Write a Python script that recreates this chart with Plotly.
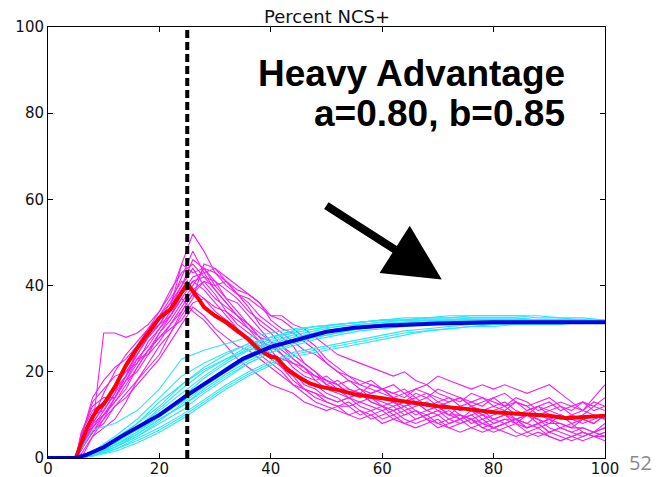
import plotly.graph_objects as go

# ---------------- data ----------------
x_mag = [0, 5] + list(range(6, 101, 2))  # 50 points
mag_lines = [
    [0,0,2,8,12,16,19,25,28,31, 35,45,52,48,43,41,38,35,31,29, 26,23,21,19,18,16,16,15,14,14, 13,12,13,11,12,10,10,9,10,8, 9,9,8,7,8,8,7,7,6,7],
    [0,0,5,7,29,29,28,29,31,34, 38,45,43,44,40,41,39,38,36,33, 33,31,30,28,26,24,23,22,21,20, 19,20,18,17,19,18,17,16,17,16, 17,16,15,16,17,15,13,11,14,17],
    [0,0,0,5,9,14,18,22,27,30, 33,38,41,42,39,36,33,31,29,27, 26,24,22,20,18,17,15,16,14,13, 12,13,11,10,11,12,10,9,8,9, 10,8,7,8,6,7,8,6,5,6],
    [0,0,6,12,14,14,18,23,24,29, 32,36,40,44,41,37,36,33,30,27, 24,21,19,18,19,17,15,14,15,16, 14,13,15,14,12,13,14,12,11,12, 13,11,10,12,11,10,9,10,12,11],
    [0,0,4,10,11,15,22,26,30,33, 36,40,44,40,37,35,33,30,28,25, 22,20,17,16,14,13,14,12,11,12, 10,11,9,10,11,9,8,9,7,8, 9,8,10,9,7,6,5,6,5,5],
    [0,0,2,6,8,12,15,18,22,26, 29,33,37,45,44,42,40,38,36,32, 30,29,27,25,22,20,19,17,18,16, 15,16,14,15,13,14,12,13,14,12, 11,13,12,10,11,12,10,9,10,9],
    [0,0,3,7,10,13,17,21,25,28, 31,34,38,35,33,31,29,28,25,23, 21,19,16,14,13,12,12,10,11,9, 10,8,9,10,8,7,8,9,7,6, 7,8,6,5,6,5,4,5,6,5],
    [0,0,5,13,16,19,20,24,28,33, 37,41,39,37,35,34,32,30,27,24, 21,18,16,15,14,13,14,15,13,12, 13,11,12,13,11,10,12,11,9,10, 11,9,10,8,9,10,8,9,8,10],
    [0,0,1,5,7,9,13,18,21,24, 29,34,38,41,38,34,31,29,27,26, 24,22,21,19,18,17,18,16,15,16, 15,14,16,15,14,13,14,12,13,14, 12,13,11,12,13,11,12,13,11,12],
    [0,0,4,9,15,20,24,27,30,34, 39,43,45,42,41,39,37,34,32,30, 28,26,22,20,17,16,14,13,12,11, 12,10,11,9,10,8,9,10,8,7, 8,9,7,8,6,7,6,5,6,7],
    [0,0,3,8,12,17,20,22,25,28, 30,32,36,37,34,32,30,27,24,22, 20,17,15,13,12,11,10,9,10,8, 9,8,7,8,9,7,6,7,8,7, 6,5,6,7,5,4,5,4,5,6],
    [0,0,6,11,13,14,19,24,28,31, 35,40,46,44,43,40,38,37,35,33, 32,30,28,26,23,21,19,18,17,16, 17,15,16,17,15,14,13,15,14,13, 12,14,13,11,12,13,12,11,13,12],
    [0,0,2,6,9,12,14,17,20,23, 27,31,35,33,30,28,26,25,23,21, 19,17,16,15,13,12,13,11,10,11, 9,10,11,9,8,9,10,8,9,7, 8,9,7,8,9,7,6,7,6,8],
    [0,0,4,10,13,16,21,25,29,32, 36,42,48,43,39,36,33,31,28,25, 22,20,18,17,15,14,12,13,14,12, 11,12,13,11,10,11,9,10,11,9, 8,9,10,9,8,10,9,8,9,10],
    [0,0,5,14,18,21,23,26,29,31, 33,37,34,32,29,26,23,21,19,17, 16,15,13,12,11,12,10,11,9,10, 11,9,8,9,7,8,9,7,6,7, 8,6,5,6,5,4,5,6,5,4],
    [0,0,2,7,11,15,19,23,26,30, 34,38,42,43,44,41,38,36,33,31, 29,27,25,24,22,20,18,17,16,15, 14,13,14,12,13,12,11,12,10,11, 12,10,11,12,10,9,10,11,10,9],
    [0,0,3,6,10,14,18,20,24,27, 31,35,39,41,40,37,34,31,28,27, 25,23,21,18,16,15,14,15,13,12, 11,12,10,11,12,10,9,11,10,9, 10,9,8,10,9,8,7,9,8,10],
    [0,0,4,8,10,13,16,21,25,29, 33,37,41,39,36,33,30,28,26,24, 23,22,20,19,17,18,16,15,17,16, 14,15,13,14,16,15,14,13,12,14, 15,13,12,13,14,12,11,13,12,14],
]

x_cyan = [0, 5, 8, 12, 16, 20, 24, 28, 32, 36, 40, 44, 48, 52, 56, 60, 64, 68, 72, 76, 80, 84, 88, 92, 96, 100]
cyan_lines = [
    [0,0,6.5,8,11,16,23,25,26.5,28,29,30,30.5,31,31.5,32,32,32.5,32.5,33,33,33,33,32.5,32,32],
    [0,0,1,4,8,13,17,21,24,26.5,28,29.5,30.5,31,31.5,32,32,32,32,32.5,32.5,32.5,32,32,32,31.5],
    [0,0,0.5,3,6,10,13,17,21,24,26.5,28,29,30,30.5,31,31.5,31.5,32,32,32,32,32,32,31.5,31.5],
    [0,0,0.5,2.5,5,8,11,15,18.5,22,24.5,26,27.5,28.5,29.5,30,30.5,31,31,31.5,31.5,31.5,31.5,31.5,31.5,31.5],
    [0,0,1,3.5,6.5,10,14,18.5,22,25,27,28.5,29.5,30.5,31,31.5,32,32,32,32,32,32,32,32,31.5,31.5],
    [0,0,0.5,2,4.5,7,10,13.5,17,20,22.5,24.5,25.5,26.5,27.5,28.5,29.5,30,30.5,31,31,31.5,31.5,31.5,31.5,31.5],
    [0,0,1,4,7,11,15,19,22.5,25.5,27.5,29,30,31,31.5,32,32.5,32.5,33,33,33,33,32.5,32.5,32.5,32],
    [0,0,0.5,3,5.5,9,12,16,19.5,22.5,25,27,28,29,30,30.5,31,31,31.5,31.5,31.5,31.5,31.5,31.5,31.5,31.5],
    [0,0,0.5,2,4,6.5,9.5,13,16.5,19.5,22,24,25,26,27,28,29,29.5,30,30.5,31,31,31,31.5,31.5,31.5],
    [0,0,1.5,5,9,14,19,22,24.5,26.5,28,29,30,30.5,31,31.5,31.5,32,32,32,32,32,32,32,31.5,31.5],
    [0,0,0.5,2.5,5,8.5,12.5,16.5,20,23,25.5,27,28.5,29.5,30,30.5,31,31.5,31.5,32,32,32,32,32,32,31.5],
    [0,0,1,3.5,7,11.5,16,20,23,26,28,29.5,30.5,31,31.5,32,32,32.5,32.5,32.5,32.5,32.5,32,32,32,32],
    [0,0,0.5,1.5,3.5,6,9,12.5,16,19,21.5,23.5,24.5,25.5,26.5,27.5,28.5,29.5,30,30.5,30.5,31,31,31,31.5,31.5],
    [0,0,1,3,6,9.5,13,17,20.5,23.5,25.5,27.5,29,30,30.5,31,31.5,31.5,31.5,32,32,32,32,31.5,31.5,31.5],
    [0,0,0.5,2.5,5.5,9,12,15.5,19,22,24.5,26.5,28,29,30,30.5,31,31.5,31.5,31.5,31.5,31.5,31.5,31.5,31.5,31.5],
    [0,0,1,4.5,8,12,17,20.5,23,25,26.5,28,29,30,30.5,31,31.5,31.5,32,32,32,32,32,32,32,31.5],
]

x_red = [0, 5, 6, 7, 8, 9, 10, 12, 14, 16, 18, 20, 22, 23, 25, 27, 28, 30, 32, 34, 36, 38, 40, 41, 43, 45, 47, 49, 52, 55, 60, 65, 70, 75, 80, 85, 90, 93, 96, 100]
red_mean = [0, 0, 3.5, 7, 9.5, 11.5, 12.5, 16.5, 21.5, 25.5, 29, 32.5, 34.5, 36.5, 40.5, 37, 35, 33, 31.5, 29.5, 27.5, 25, 23.5, 23.3, 20.5, 18.8, 17.3, 16.5, 15.8, 14.8, 13.8, 12.8, 12, 11.4, 10.6, 10.2, 9.8, 9.2, 9.4, 9.8]

x_blue = [0, 5, 7, 10, 13, 15, 20, 25, 30, 35, 40, 45, 50, 55, 60, 70, 80, 90, 100]
blue_mean = [0, 0, 0.8, 2.5, 4.9, 6.3, 10, 14.6, 18.8, 23, 25.8, 27.6, 29.3, 30.2, 30.7, 31.2, 31.5, 31.5, 31.5]

event_x = 25
tick_vals = [0, 20, 40, 60, 80, 100]
title_text = "Percent NCS+"
label_line1 = "Heavy Advantage"
label_line2 = "a=0.80, b=0.85"
arrow_tail = (49.7, 58.8)
arrow_head = (70.7, 41.4)
slide_number = "52"

# ---------------- figure ----------------
fig = go.Figure()
for ys in mag_lines:
    fig.add_trace(go.Scatter(x=x_mag, y=ys, mode="lines",
                             line=dict(color="#f020f0", width=1.1), hoverinfo="skip"))
for ys in cyan_lines:
    fig.add_trace(go.Scatter(x=x_cyan, y=ys, mode="lines",
                             line=dict(color="#30e6f2", width=1.1), hoverinfo="skip"))
fig.add_trace(go.Scatter(x=x_red, y=red_mean, mode="lines",
                         line=dict(color="#ff0000", width=4)))
fig.add_trace(go.Scatter(x=x_blue, y=blue_mean, mode="lines",
                         line=dict(color="#0000e6", width=4)))

fig.add_vline(x=event_x, line=dict(color="black", width=4, dash="8px,4px"), layer="above")

axis_common = dict(range=[0, 100], tickvals=tick_vals, ticks="inside", ticklen=5,
                   tickcolor="black", showline=True, linecolor="black", linewidth=1,
                   mirror="ticks", showgrid=False, zeroline=False, automargin=False,
                   tickfont=dict(family="DejaVu Sans", size=15, color="#111111"))
fig.update_xaxes(**axis_common, ticklabelstandoff=-3)
fig.update_yaxes(**axis_common)

fig.add_annotation(text=title_text, xref="paper", yref="paper", x=0.5, y=1.0,
                   xanchor="center", yanchor="bottom", yshift=-2, showarrow=False,
                   font=dict(family="DejaVu Sans", size=18, color="#111111"))
fig.add_annotation(text="<b>" + label_line1 + "</b>", xref="paper", yref="paper",
                   x=0.9318, y=0.893, xanchor="right", yanchor="middle", showarrow=False,
                   font=dict(family="Liberation Sans", size=37, color="black"))
fig.add_annotation(text="<b>" + label_line2 + "</b>", xref="paper", yref="paper",
                   x=0.9318, y=0.799, xanchor="right", yanchor="middle", showarrow=False,
                   font=dict(family="Liberation Sans", size=37, color="black"))
fig.add_annotation(x=arrow_head[0], y=arrow_head[1], ax=arrow_tail[0], ay=arrow_tail[1],
                   xref="x", yref="y", axref="x", ayref="y", text="", showarrow=True,
                   arrowhead=2, arrowsize=1.4, arrowwidth=8, arrowcolor="black")
fig.add_annotation(text=slide_number, xref="paper", yref="paper", x=1.0646, y=-0.0465,
                   xanchor="center", yanchor="bottom", showarrow=False,
                   font=dict(family="Open Sans", size=20, color="#8a8a8a"))

fig.update_layout(width=662, height=477, showlegend=False,
                  margin=dict(l=48, r=57, t=27, b=19),
                  plot_bgcolor="white", paper_bgcolor="white")
fig.write_html("out.html", config={"displayModeBar": False},
               post_script="document.body.style.margin='0px';document.body.style.overflow='hidden';")
